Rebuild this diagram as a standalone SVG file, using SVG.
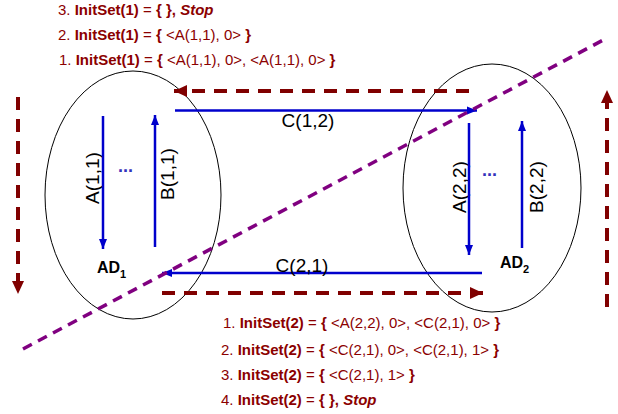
<svg xmlns="http://www.w3.org/2000/svg" width="618" height="414" viewBox="0 0 618 414">
<style>
text{font-family:"Liberation Sans",Arial,sans-serif}
.st{font-size:15px;fill:#8b0000}
.b{font-weight:bold}
.bi{font-weight:bold;font-style:italic}
.lbl{font-size:19px;fill:#000}
.ad{font-size:16px;font-weight:bold;fill:#000}
.sub{font-size:11px;font-weight:bold;fill:#000}
.dots{font-size:18px;font-weight:bold;fill:#3333bb}
.ell{fill:none;stroke:#000;stroke-width:1}
.blue{stroke:#0000cc;stroke-width:2.5;fill:none;marker-end:url(#ab)}
.red{stroke:#800000;stroke-width:4;fill:none;stroke-dasharray:13 9;marker-end:url(#ar)}
.purple{stroke:#800080;stroke-width:3.5;fill:none;stroke-dasharray:10 7}
</style>
<defs>
<marker id="ab" markerUnits="userSpaceOnUse" markerWidth="10" markerHeight="10" viewBox="0 0 10 10" refX="10" refY="5" orient="auto"><path d="M0,1 L10,5 L0,9 Z" fill="#0000cc"/></marker>
<marker id="ar" markerUnits="userSpaceOnUse" markerWidth="13" markerHeight="13" viewBox="0 0 13 13" refX="13" refY="6.5" orient="auto"><path d="M0,0.5 L13,6.5 L0,12.5 Z" fill="#800000"/></marker>
</defs>

<g id="AD1">
<ellipse class="ell" cx="133" cy="195" rx="88" ry="124"/>
<text class="lbl" transform="translate(99,178) rotate(-90)" text-anchor="middle">A(1,1)</text>
<text class="lbl" transform="translate(174,174) rotate(-90)" text-anchor="middle">B(1,1)</text>
<text class="dots" x="118" y="172">...</text>
<text class="ad" x="97" y="273">AD<tspan class="sub" dy="5">1</tspan></text>
</g>

<g id="AD2">
<ellipse class="ell" cx="492" cy="188" rx="89" ry="124"/>
<text class="lbl" transform="translate(466,187) rotate(-90)" text-anchor="middle">A(2,2)</text>
<text class="lbl" transform="translate(543,187) rotate(-90)" text-anchor="middle">B(2,2)</text>
<text class="dots" x="482" y="176">...</text>
<text class="ad" x="500" y="268">AD<tspan class="sub" dy="5">2</tspan></text>
</g>

<g id="connectors">
<line class="blue" x1="103" y1="116" x2="103" y2="249"/>
<line class="blue" x1="155" y1="247" x2="155" y2="115"/>
<line class="blue" x1="469" y1="123" x2="469" y2="255"/>
<line class="blue" x1="522" y1="248" x2="522" y2="121"/>
<line class="blue" x1="175" y1="110.5" x2="477" y2="110.5"/>
<line class="blue" x1="482" y1="273" x2="162" y2="273"/>
<text class="lbl" x="308" y="127" text-anchor="middle">C(1,2)</text>
<text class="lbl" x="302" y="272" text-anchor="middle">C(2,1)</text>
<line class="red" x1="469" y1="91" x2="174" y2="91"/>
<line class="red" x1="162" y1="293" x2="483" y2="293"/>
<line class="red" x1="18" y1="97" x2="18" y2="294"/>
<line class="red" x1="607" y1="307" x2="607" y2="90"/>
<line class="purple" x1="23" y1="349" x2="607" y2="38"/>
</g>

<g id="initset1">
<text class="st" x="58" y="15">3. <tspan class="b">InitSet(1)</tspan> = <tspan class="b">{ }, </tspan><tspan class="bi">Stop</tspan></text>
<text class="st" x="58" y="40">2. <tspan class="b">InitSet(1)</tspan> = <tspan class="b">{</tspan> &lt;A(1,1), 0&gt; <tspan class="b">}</tspan></text>
<text class="st" x="59" y="65">1. <tspan class="b">InitSet(1)</tspan> = <tspan class="b">{</tspan> &lt;A(1,1), 0&gt;, &lt;A(1,1), 0&gt; <tspan class="b">}</tspan></text>
</g>

<g id="initset2">
<text class="st" x="223" y="328">1. <tspan class="b">InitSet(2)</tspan> = <tspan class="b">{</tspan> &lt;A(2,2), 0&gt;, &lt;C(2,1), 0&gt; <tspan class="b">}</tspan></text>
<text class="st" x="221" y="355">2. <tspan class="b">InitSet(2)</tspan> = <tspan class="b">{</tspan> &lt;C(2,1), 0&gt;, &lt;C(2,1), 1&gt; <tspan class="b">}</tspan></text>
<text class="st" x="221" y="380">3. <tspan class="b">InitSet(2)</tspan> = <tspan class="b">{</tspan> &lt;C(2,1), 1&gt; <tspan class="b">}</tspan></text>
<text class="st" x="221" y="405">4. <tspan class="b">InitSet(2)</tspan> = <tspan class="b">{ }, </tspan><tspan class="bi">Stop</tspan></text>
</g>
</svg>
